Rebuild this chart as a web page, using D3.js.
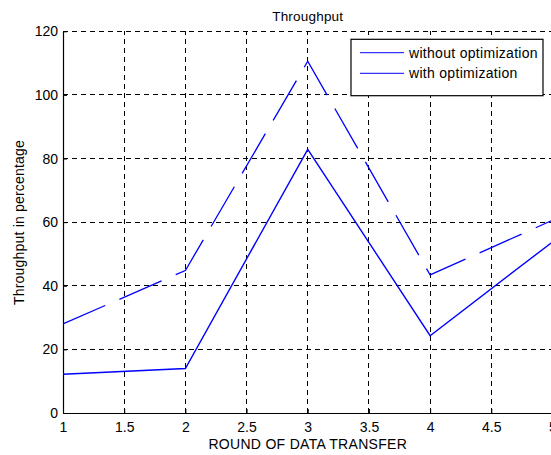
<!DOCTYPE html>
<html>
<head>
<meta charset="utf-8">
<script src="https://cdn.jsdelivr.net/npm/d3@7"></script>
<style>
  html, body { margin: 0; padding: 0; background: #fff; }
  svg { display: block; }
  text { font-family: "Liberation Sans", Arial, Helvetica, sans-serif; fill: #000; }
</style>
</head>
<body>
<div id="chart"></div>
<script>
const rounds = [1, 2, 3, 4, 5];
const withoutOpt = [12.2, 14.0, 82.9, 24.3, 53.8];
const withOpt = [28.0, 44.8, 110.6, 43.4, 60.6];
const xTicks = [1, 1.5, 2, 2.5, 3, 3.5, 4, 4.5, 5];
const yTicks = [0, 20, 40, 60, 80, 100, 120];
const seriesNames = ["without optimization", "with optimization"];

const W = 551, H = 455;
const margin = { left: 63, top: 31.3, right: -1.5, bottom: 42 };
const pw = W - margin.left - margin.right;
const ph = H - margin.top - margin.bottom;

const svg = d3.select("#chart").append("svg")
  .attr("width", W).attr("height", H);

const x = d3.scaleLinear().domain([1, 5]).range([margin.left, margin.left + pw]);
const y = d3.scaleLinear().domain([0, 120]).range([margin.top + ph, margin.top]);

// grid
const grid = svg.append("g");
grid.selectAll("line.vx").data(xTicks.filter(d => d > 1)).enter().append("line")
  .attr("x1", d => x(d)).attr("x2", d => x(d))
  .attr("y1", y(0)).attr("y2", y(120))
  .attr("stroke", "#000").attr("stroke-width", 1).attr("stroke-dasharray", "5,4")
  .attr("shape-rendering", "crispEdges");
grid.selectAll("line.hy").data(yTicks.filter(d => d > 0)).enter().append("line")
  .attr("x1", x(1)).attr("x2", x(5))
  .attr("y1", d => y(d)).attr("y2", d => y(d))
  .attr("stroke", "#000").attr("stroke-width", 1).attr("stroke-dasharray", "5,4")
  .attr("shape-rendering", "crispEdges");

// axes
const xAxis = d3.axisBottom(x).tickValues(xTicks).tickSizeInner(-4).tickSizeOuter(0).tickPadding(9)
  .tickFormat(d3.format("~g"));
const yAxis = d3.axisLeft(y).tickValues(yTicks).tickSizeInner(-4).tickSizeOuter(0).tickPadding(5);

const gx = svg.append("g").attr("transform", `translate(0,${y(0)})`).call(xAxis);
const gy = svg.append("g").attr("transform", `translate(${x(1)},0)`).call(yAxis);
[gx, gy].forEach(g => {
  g.select(".domain").attr("stroke", "#000").attr("stroke-width", 1.2);
  g.selectAll(".tick line").attr("stroke", "#000");
  g.selectAll(".tick text").attr("font-size", "14px")
    .attr("font-family", '"Liberation Sans", Arial, sans-serif').attr("fill", "#000");
});
gx.selectAll(".tick text").attr("dy", "0.71em");

// lines
const line = d3.line().x((d, i) => x(rounds[i])).y(d => y(d));
svg.append("path").datum(withOpt)
  .attr("d", line).attr("fill", "none").attr("stroke", "#0000ff")
  .attr("stroke-width", 1.3).attr("stroke-dasharray", "46,15.5");
svg.append("path").datum(withoutOpt)
  .attr("d", line).attr("fill", "none").attr("stroke", "#0000ff")
  .attr("stroke-width", 1.4);

// title and labels
svg.append("text").attr("x", x(3)).attr("y", 20.7).attr("text-anchor", "middle")
  .attr("font-size", "13.5px").attr("letter-spacing", "0.2px").text("Throughput");
svg.append("text").attr("x", x(3)).attr("y", 449).attr("text-anchor", "middle")
  .attr("font-size", "14px").attr("letter-spacing", "0.3px").text("ROUND OF DATA TRANSFER");
svg.append("text").attr("transform", `translate(24,222.5) rotate(-90)`)
  .attr("text-anchor", "middle").attr("font-size", "14px").attr("letter-spacing", "0.2px")
  .text("Throughput in percentage");

// legend
const lg = svg.append("g");
lg.append("rect").attr("x", 351).attr("y", 39.3).attr("width", 192).attr("height", 56.4)
  .attr("fill", "#fff").attr("stroke", "#000").attr("stroke-width", 1.2);
const legY = [52.7, 73.3];
seriesNames.forEach((name, i) => {
  lg.append("line").attr("x1", 360).attr("x2", 404).attr("y1", legY[i]).attr("y2", legY[i])
    .attr("stroke", "#3333ff").attr("stroke-width", 1.2);
  lg.append("text").attr("x", 409).attr("y", legY[i] + 5).attr("font-size", "14px")
    .attr("letter-spacing", "0.3px").text(name);
});
</script>
</body>
</html>
